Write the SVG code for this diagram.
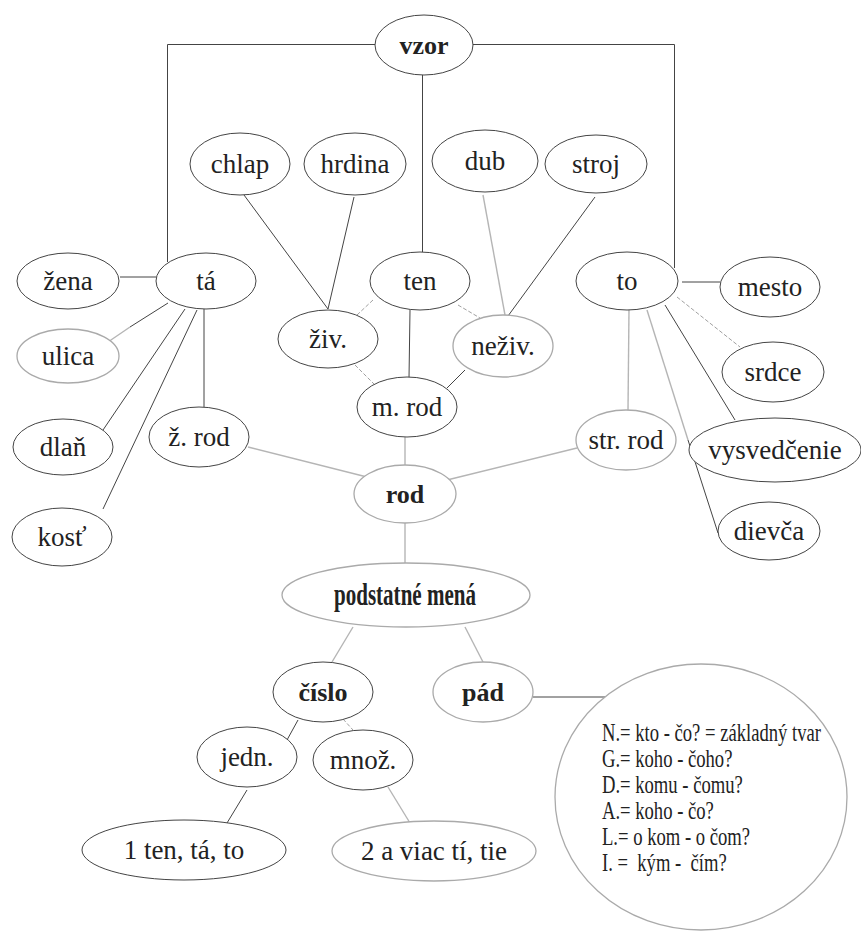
<svg xmlns="http://www.w3.org/2000/svg" width="861" height="936" viewBox="0 0 861 936">
<style>
.n{fill:#fff;stroke:#444;stroke-width:1}
.g{fill:#fff;stroke:#aaa;stroke-width:1.3}
.t{font-family:"Liberation Serif","Times New Roman",serif;font-size:27px;fill:#222;text-anchor:middle}
.b{font-family:"Liberation Serif","Times New Roman",serif;font-size:26px;font-weight:bold;fill:#222;text-anchor:middle}
.c{font-family:"Liberation Serif","Times New Roman",serif;font-size:25px;fill:#222;white-space:pre}
.l{fill:none;stroke:#444;stroke-width:1}
.lg{fill:none;stroke:#b5b5b5;stroke-width:1.4}
.ld{fill:none;stroke:#888;stroke-width:0.8;stroke-dasharray:4 2}
</style>
<rect width="861" height="936" fill="#fff"/>
<g id="connectors">
<polyline class="l" points="375,44.5 167.5,44.5 167.5,262"/>
<polyline class="l" points="472,44.5 674.5,44.5 674.5,268"/>
<line class="l" x1="422.5" y1="75" x2="422.5" y2="252"/>
<line class="l" x1="244" y1="195" x2="328" y2="309"/>
<line class="l" x1="354" y1="197" x2="328" y2="309"/>
<line class="lg" x1="483" y1="195" x2="505" y2="315"/>
<line class="l" x1="595" y1="197" x2="508" y2="316"/>
<line class="ld" x1="373" y1="300" x2="357" y2="315"/>
<line class="ld" x1="458" y1="305" x2="480" y2="318"/>
<line class="l" x1="410" y1="310" x2="409" y2="378"/>
<line class="ld" x1="355" y1="365" x2="375" y2="385"/>
<line class="l" x1="465" y1="370" x2="447" y2="388"/>
<line class="lg" x1="405" y1="437" x2="405" y2="465"/>
<line class="lg" x1="248" y1="447" x2="367" y2="477"/>
<line class="lg" x1="577" y1="448" x2="447" y2="480"/>
<line class="lg" x1="405" y1="523" x2="405" y2="563"/>
<line class="l" x1="120" y1="277" x2="156" y2="277"/>
<line class="l" x1="168" y1="303" x2="130" y2="327"/>
<line class="lg" x1="130" y1="327" x2="108" y2="342"/>
<line class="l" x1="185" y1="309" x2="103" y2="430"/>
<line class="l" x1="197" y1="310" x2="103" y2="509"/>
<line class="l" x1="204" y1="309" x2="204" y2="407"/>
<line class="l" x1="682" y1="282" x2="720" y2="282"/>
<line class="ld" x1="677" y1="297" x2="740" y2="347"/>
<line class="l" x1="665" y1="305" x2="735" y2="420"/>
<line class="lg" x1="629" y1="309" x2="628" y2="410"/>
<line class="lg" x1="647" y1="310" x2="688" y2="440"/>
<line class="l" x1="688" y1="440" x2="718" y2="533"/>
<line class="lg" x1="353" y1="627" x2="332" y2="662"/>
<line class="lg" x1="465" y1="627" x2="483" y2="662"/>
<line class="l" x1="298" y1="720" x2="287" y2="740"/>
<line class="ld" x1="343" y1="719" x2="353" y2="730"/>
<line class="l" x1="247" y1="790" x2="227" y2="823"/>
<line class="lg" x1="388" y1="787" x2="410" y2="823"/>
<line class="l" x1="533" y1="697" x2="608" y2="697"/>
</g>
<g id="vzor"><ellipse class="n" cx="424" cy="45" rx="49" ry="30"/><text class="b" x="424" y="54">vzor</text></g>
<g id="chlap"><ellipse class="n" cx="240" cy="164" rx="50" ry="31"/><text class="t" x="240" y="173">chlap</text></g>
<g id="hrdina"><ellipse class="n" cx="355" cy="164" rx="51" ry="31"/><text class="t" x="355" y="173">hrdina</text></g>
<g id="dub"><ellipse class="n" cx="485" cy="161" rx="53" ry="31"/><text class="t" x="485" y="170">dub</text></g>
<g id="stroj"><ellipse class="n" cx="596" cy="164" rx="51" ry="29"/><text class="t" x="596" y="173">stroj</text></g>
<g id="ta"><ellipse class="n" cx="206" cy="281" rx="50" ry="28"/><text class="t" x="206" y="290">tá</text></g>
<g id="zena"><ellipse class="n" cx="68" cy="281" rx="51" ry="28"/><text class="t" x="68" y="290">žena</text></g>
<g id="ulica"><ellipse class="g" cx="68" cy="356" rx="51" ry="27"/><text class="t" x="68" y="365">ulica</text></g>
<g id="dlan"><ellipse class="n" cx="63" cy="447" rx="50" ry="28"/><text class="t" x="63" y="456">dlaň</text></g>
<g id="kost"><ellipse class="n" cx="62" cy="537" rx="50" ry="29"/><text class="t" x="62" y="546">kosť</text></g>
<g id="zrod"><ellipse class="n" cx="199" cy="437" rx="50" ry="30"/><text class="t" x="199" y="446">ž. rod</text></g>
<g id="ten"><ellipse class="n" cx="420" cy="281" rx="50" ry="29"/><text class="t" x="420" y="290">ten</text></g>
<g id="ziv"><ellipse class="n" cx="328" cy="339" rx="50" ry="29"/><text class="t" x="328" y="348">živ.</text></g>
<g id="neziv"><ellipse class="g" cx="503" cy="346" rx="50" ry="31"/><text class="t" x="503" y="355">neživ.</text></g>
<g id="mrod"><ellipse class="n" cx="407" cy="407" rx="50" ry="30"/><text class="t" x="407" y="416">m. rod</text></g>
<g id="to"><ellipse class="n" cx="627" cy="281" rx="51" ry="29"/><text class="t" x="627" y="290">to</text></g>
<g id="mesto"><ellipse class="n" cx="770" cy="287" rx="50" ry="30"/><text class="t" x="770" y="296">mesto</text></g>
<g id="srdce"><ellipse class="n" cx="773" cy="372" rx="51" ry="30"/><text class="t" x="773" y="381">srdce</text></g>
<g id="strrod"><ellipse class="g" cx="626" cy="440" rx="50" ry="30"/><text class="t" x="626" y="449">str. rod</text></g>
<g id="vysvedcenie"><ellipse class="n" cx="775" cy="450" rx="86" ry="32"/><text class="t" x="775" y="459">vysvedčenie</text></g>
<g id="dievca"><ellipse class="n" cx="769" cy="531" rx="51" ry="29"/><text class="t" x="769" y="540">dievča</text></g>
<g id="rod"><ellipse class="g" cx="405" cy="494" rx="51" ry="29"/><text class="b" x="405" y="503">rod</text></g>
<g id="podstatne"><ellipse class="g" cx="406" cy="595" rx="124" ry="32"/><text class="b" x="405" y="605" style="font-size:32px" textLength="142" lengthAdjust="spacingAndGlyphs">podstatné mená</text></g>
<g id="cislo"><ellipse class="n" cx="323" cy="692" rx="50" ry="30"/><text class="b" x="323" y="701">číslo</text></g>
<g id="pad"><ellipse class="g" cx="483" cy="692" rx="50" ry="30"/><text class="b" x="483" y="701">pád</text></g>
<g id="jedn"><ellipse class="n" cx="247" cy="757" rx="50" ry="30"/><text class="t" x="247" y="766">jedn.</text></g>
<g id="mnoz"><ellipse class="n" cx="363" cy="760" rx="50" ry="30"/><text class="t" x="363" y="769">množ.</text></g>
<g id="jeden"><ellipse class="n" cx="184" cy="850" rx="102" ry="30"/><text class="t" x="184" y="859">1 ten, tá, to</text></g>
<g id="viac"><ellipse class="g" cx="434" cy="851" rx="102" ry="30"/><text class="t" x="434" y="860">2 a viac tí, tie</text></g>
<g id="pady">
<ellipse class="g" cx="701" cy="797" rx="146" ry="133"/>
<g transform="translate(602,0) scale(0.745,1)">
<text class="c" x="0" y="741">N.= kto - čo? = základný tvar</text>
<text class="c" x="0" y="767">G.= koho - čoho?</text>
<text class="c" x="0" y="793">D.= komu - čomu?</text>
<text class="c" x="0" y="819">A.= koho - čo?</text>
<text class="c" x="0" y="845">L.= o kom - o čom?</text>
<text class="c" x="0" y="871">I. =  kým -  čím?</text>
</g>
</g>
</svg>
